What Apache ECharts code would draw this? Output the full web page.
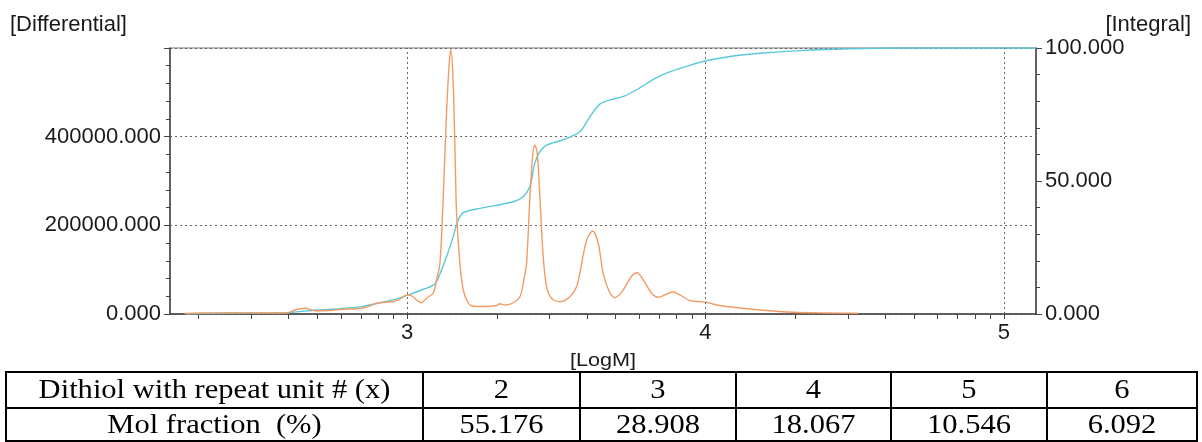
<!DOCTYPE html>
<html>
<head>
<meta charset="utf-8">
<script src="https://cdn.jsdelivr.net/npm/echarts@6/dist/echarts.min.js"></script>
<style>
  html, body { margin: 0; padding: 0; background: #fff; }
  #chart { width: 1202px; height: 442px; }
</style>
</head>
<body>
<div id="chart"></div>
<script>
// GPC molecular weight distribution: differential (left axis) and integral (right axis) vs log M
const diffLogM = [2.254, 2.305, 2.405, 2.506, 2.596, 2.623, 2.657, 2.696, 2.741, 2.784, 2.851, 2.891, 2.906, 2.952, 2.976, 2.999, 3.016, 3.033, 3.048, 3.066, 3.087, 3.100, 3.110, 3.121, 3.132, 3.141, 3.1465, 3.154, 3.160, 3.1657, 3.1767, 3.188, 3.2046, 3.220, 3.2606, 3.2998, 3.311, 3.3276, 3.351, 3.378, 3.391, 3.4004, 3.4115, 3.4205, 3.428, 3.436, 3.445, 3.456, 3.4675, 3.484, 3.512, 3.5456, 3.568, 3.579, 3.6016, 3.6217, 3.6405, 3.657, 3.680, 3.6965, 3.7243, 3.7525, 3.7713, 3.7914, 3.8196, 3.8417, 3.870, 3.892, 3.9145, 3.948, 3.9815, 4.004, 4.0376, 4.0932, 4.1828, 4.2934, 4.4064, 4.511];
const diffValues = [1100, 2250, 2700, 2250, 2250, 9000, 12900, 6800, 7900, 10600, 12900, 22600, 25500, 27700, 33800, 42900, 40600, 30400, 25500, 36100, 46700, 81200, 115000, 264600, 453400, 566200, 597000, 527800, 377400, 227800, 115000, 54100, 24800, 18000, 16900, 19200, 23000, 20300, 23700, 39000, 76700, 115000, 264600, 354800, 381200, 362500, 264600, 129200, 61600, 35400, 27700, 39000, 61600, 92500, 166900, 187200, 159500, 91800, 46700, 36800, 54100, 85700, 93200, 76700, 46700, 37700, 45100, 49600, 42900, 30000, 27700, 26400, 20300, 15100, 9000, 3800, 2250, 1600];

const intLogM = [2.258, 2.405, 2.596, 2.696, 2.774, 2.841, 2.908, 2.959, 3.003, 3.054, 3.093, 3.115, 3.132, 3.154, 3.171, 3.188, 3.244, 3.3555, 3.389, 3.4115, 3.428, 3.445, 3.4675, 3.523, 3.579, 3.6127, 3.646, 3.680, 3.730, 3.780, 3.830, 3.880, 3.948, 4.002, 4.083, 4.183, 4.317, 4.484, 4.652, 5.108];
const intValues = [0, 0.3, 0.5, 1.5, 2.0, 2.7, 4.2, 5.5, 7.1, 9.3, 11.3, 16.5, 21.5, 29.0, 35.3, 38.1, 39.7, 42.2, 44.1, 47.9, 56.7, 61.0, 63.5, 65.5, 68.5, 74.2, 78.9, 80.5, 82.0, 85.0, 88.5, 91.0, 93.5, 95.2, 96.8, 98.0, 99.0, 99.7, 100, 100];

// axis ticks
const xMajorLabels = [3, 4, 5];
const xLogTicks = [200, 300, 400, 500, 600, 700, 800, 900,
                   1000, 2000, 3000, 4000, 5000, 6000, 7000, 8000, 9000,
                   10000, 20000, 30000, 40000, 50000, 60000, 70000, 80000, 90000, 100000]
                   .map(m => Math.log10(m));

// table below the plot
const tableHeader = 'Dithiol with repeat unit # (x)';
const tableRowLabel = 'Mol fraction  (%)';
const repeatUnits = ['2', '3', '4', '5', '6'];
const molFraction = ['55.176', '28.908', '18.067', '10.546', '6.092'];

const X_MIN = 2.205, X_MAX = 5.108;
const SANS = '"Liberation Sans", Arial, sans-serif';
const SERIF = '"Liberation Serif", "Times New Roman", serif';

const pairs = (xs, ys) => xs.map((x, i) => [x, ys[i]]);

// table layout
const colEdges = [6, 423, 580, 736, 891, 1047, 1197];
const rowEdges = [372, 408, 441];
const tableGraphics = [];
tableGraphics.push({
  type: 'rect', silent: true,
  shape: { x: colEdges[0], y: rowEdges[0], width: colEdges[6] - colEdges[0], height: rowEdges[2] - rowEdges[0] },
  style: { fill: '#fff', stroke: '#000', lineWidth: 2 }
});
tableGraphics.push({
  type: 'line', silent: true,
  shape: { x1: colEdges[0], y1: rowEdges[1], x2: colEdges[6], y2: rowEdges[1] },
  style: { stroke: '#000', lineWidth: 2 }
});
for (let i = 1; i < colEdges.length - 1; i++) {
  tableGraphics.push({
    type: 'line', silent: true,
    shape: { x1: colEdges[i], y1: rowEdges[0], x2: colEdges[i], y2: rowEdges[2] },
    style: { stroke: '#000', lineWidth: 2 }
  });
}
const cellText = (txt, c0, c1, r) => ({
  type: 'text', silent: true,
  x: (colEdges[c0] + colEdges[c1]) / 2,
  y: (rowEdges[r] + rowEdges[r + 1]) / 2 + 1,
  scaleX: 1.09,
  style: { text: txt, font: '28px ' + SERIF, fill: '#000', align: 'center', verticalAlign: 'middle' }
});
tableGraphics.push(cellText(tableHeader, 0, 1, 0));
tableGraphics.push(cellText(tableRowLabel, 0, 1, 1));
repeatUnits.forEach((t, i) => tableGraphics.push(cellText(t, i + 1, i + 2, 0)));
molFraction.forEach((t, i) => tableGraphics.push(cellText(t, i + 1, i + 2, 1)));

const chart = echarts.init(document.getElementById('chart'), null, { renderer: 'canvas' });

const axisLineStyle = { color: '#444', width: 1.5 };
const dashGrid = { color: '#666', width: 1, type: [2, 3] };

chart.setOption({
  animation: false,
  backgroundColor: '#fff',
  grid: {
    left: 170, right: 166, top: 48, bottom: 128,
    show: true, borderColor: '#777', borderWidth: 1, backgroundColor: 'transparent'
  },
  xAxis: {
    type: 'value', min: X_MIN, max: X_MAX,
    axisLine: { show: true, onZero: false, lineStyle: axisLineStyle },
    axisTick: { show: true, inside: false, length: 5, customValues: xLogTicks, lineStyle: { color: '#444', width: 1 } },
    axisLabel: { customValues: xMajorLabels, formatter: v => String(Math.round(v)), fontSize: 22, fontFamily: SANS, color: '#1a1a1a', margin: 8 },
    splitLine: { show: false }
  },
  yAxis: [
    {
      type: 'value', position: 'left', min: 0, max: 600000, interval: 200000,
      axisLine: { show: true, lineStyle: axisLineStyle },
      axisTick: { show: true, length: 6, lineStyle: { color: '#444' } },
      minorTick: { show: true, splitNumber: 5, length: 4, lineStyle: { color: '#444' } },
      axisLabel: {
        formatter: v => (v >= 600000 ? '' : v.toFixed(3)),
        fontSize: 22, fontFamily: SANS, color: '#1a1a1a', margin: 9
      },
      splitLine: { show: true, lineStyle: dashGrid }
    },
    {
      type: 'value', position: 'right', min: 0, max: 100, interval: 50,
      axisLine: { show: true, lineStyle: axisLineStyle },
      axisTick: { show: true, length: 6, lineStyle: { color: '#444' } },
      minorTick: { show: true, splitNumber: 5, length: 4, lineStyle: { color: '#444' } },
      axisLabel: { formatter: v => v.toFixed(3), fontSize: 22, fontFamily: SANS, color: '#1a1a1a', margin: 9 },
      splitLine: { show: false }
    }
  ],
  series: [
    {
      name: 'Integral', type: 'line', xAxisIndex: 0, yAxisIndex: 1,
      data: pairs(intLogM, intValues),
      smooth: 0.3, showSymbol: false, symbol: 'none',
      lineStyle: { color: '#5AC8DB', width: 1.4 },
      z: 3,
      markLine: {
        silent: true, symbol: 'none', label: { show: false },
        lineStyle: dashGrid,
        data: xMajorLabels.map(v => ({ xAxis: v }))
      }
    },
    {
      name: 'Differential', type: 'line', xAxisIndex: 0, yAxisIndex: 0,
      data: pairs(diffLogM, diffValues),
      smooth: 0.3, showSymbol: false, symbol: 'none',
      lineStyle: { color: '#F29C65', width: 1.4 },
      z: 4
    }
  ],
  graphic: [
    { type: 'text', silent: true, x: 10, y: 25, style: { text: '[Differential]', font: '22px ' + SANS, fill: '#1a1a1a', align: 'left', verticalAlign: 'middle' } },
    { type: 'text', silent: true, x: 1191, y: 25, style: { text: '[Integral]', font: '22px ' + SANS, fill: '#1a1a1a', align: 'right', verticalAlign: 'middle' } },
    { type: 'text', silent: true, x: 603, y: 361, scaleX: 1.2, style: { text: '[LogM]', font: '18px ' + SANS, fill: '#1a1a1a', align: 'center', verticalAlign: 'middle' } }
  ].concat(tableGraphics)
});
</script>
</body>
</html>
